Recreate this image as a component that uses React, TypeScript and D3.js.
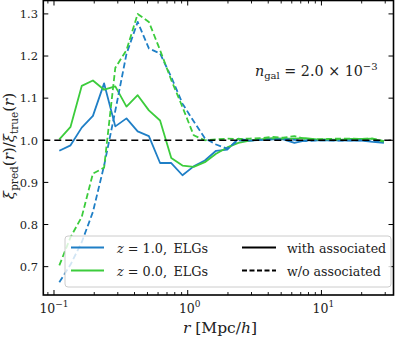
import * as d3 from 'd3';

// bin centres in Mpc/h
const rBins = [0.1096, 0.1330, 0.1612, 0.1955, 0.2370, 0.2874, 0.3484, 0.4225, 0.5124, 0.6213,
  0.7534, 0.9135, 1.108, 1.343, 1.629, 1.975, 2.394, 2.904, 3.521, 4.269,
  5.176, 6.277, 7.610, 9.228, 11.19, 13.57, 16.45, 19.95, 24.19, 29.33];

const z1With = [0.975, 0.988, 1.030, 1.058, 1.135, 1.033, 1.052, 1.021, 1.010, 0.946,
  0.946, 0.917, 0.938, 0.952, 0.975, 0.978, 1.004, 0.999, 1.001, 1.002,
  1.002, 0.994, 1.000, 1.000, 1.000, 1.000, 0.999, 0.999, 0.996, 0.994];
const z0With = [1.002, 1.032, 1.129, 1.142, 1.120, 1.128, 1.080, 1.107, 1.071, 1.047,
  0.958, 0.940, 0.937, 0.948, 0.968, 0.983, 0.994, 0.999, 1.002, 1.005,
  1.004, 1.004, 1.005, 1.002, 1.002, 1.001, 1.003, 1.003, 1.004, 0.996];
const z1Without = [0.663, 0.705, 0.758, 0.830, 0.940, 1.070, 1.205, 1.281, 1.218, 1.206,
  1.150, 1.087, 1.045, 1.005, 0.990, 0.980, 1.000, 0.999, 1.001, 1.002,
  1.003, 1.001, 0.998, 1.000, 1.000, 0.999, 1.000, 1.000, 0.998, 0.997];
const z0Without = [0.703, 0.770, 0.818, 0.921, 0.935, 1.172, 1.214, 1.300, 1.281, 1.214,
  1.143, 1.079, 1.012, 1.000, 1.002, 1.004, 1.003, 1.004, 1.005, 1.008,
  1.006, 1.010, 1.003, 1.002, 1.003, 1.004, 1.004, 1.003, 1.004, 0.998];

const yTicks = [0.7, 0.8, 0.9, 1.0, 1.1, 1.2, 1.3];
const xMajor = [0.1, 1, 10];
const xExp = ['\u22121', '0', '1'];
const xMinor = [0.09, 0.2, 0.3, 0.4, 0.5, 0.6, 0.7, 0.8, 0.9, 2, 3, 4, 5, 6, 7, 8, 9, 20, 30];

const BLUE = '#1f7fc6';
const GREEN = '#3ccc3c';
const FONT = "'DejaVu Serif', serif";

export default function App() {
  const left = 43.3, right = 393.5, top = 0.5, bottom = 295;
  const x = d3.scaleLog().domain([0.08318, 34.59]).range([left, right]);
  const y = d3.scaleLinear().domain([0.6327, 1.3318]).range([bottom, top]);

  const line = (vals: number[]) =>
    d3.line<number>().x((d, i) => x(rBins[i])).y(d => y(d))(vals) || '';

  const series = [
    { vals: z1With, color: BLUE, dash: undefined },
    { vals: z0With, color: GREEN, dash: undefined },
    { vals: z1Without, color: BLUE, dash: '6,3' },
    { vals: z0Without, color: GREEN, dash: '6,3' },
  ];

  return (
    <svg width={399} height={338} style={{ position: 'absolute', left: 0, top: 0 }}>
      <rect width={399} height={338} fill="white" />
      <defs>
        <clipPath id="plot">
          <rect x={left} y={top} width={right - left} height={bottom - top} />
        </clipPath>
      </defs>
      <g clipPath="url(#plot)">
        {series.map((s, i) => (
          <path key={i} d={line(s.vals)} fill="none" stroke={s.color} strokeWidth={1.8}
            strokeDasharray={s.dash} strokeLinejoin="round" />
        ))}
        <line x1={left} x2={right} y1={y(1)} y2={y(1)} stroke="black" strokeWidth={1.6} strokeDasharray="7,4" />
      </g>

      <g style={{ fontFamily: FONT }} fill="#222">
        {yTicks.map(t => (
          <g key={t}>
            <line x1={left} x2={left + 5} y1={y(t)} y2={y(t)} stroke="black" strokeWidth={1} />
            <line x1={right - 5} x2={right} y1={y(t)} y2={y(t)} stroke="black" strokeWidth={1} />
            <text x={38} y={y(t) + 4.3} fontSize={11.5} textAnchor="end">{t.toFixed(1)}</text>
          </g>
        ))}
        {xMajor.map((t, i) => (
          <g key={t}>
            <line x1={x(t)} x2={x(t)} y1={bottom} y2={bottom - 5} stroke="black" strokeWidth={1} />
            <line x1={x(t)} x2={x(t)} y1={top} y2={top + 5} stroke="black" strokeWidth={1} />
            <text x={x(t) + (i === 0 ? 0 : 2)} y={313} fontSize={12.5} textAnchor="middle">
              10<tspan fontSize={9} dy={-6}>{xExp[i]}</tspan>
            </text>
          </g>
        ))}
        {xMinor.map(t => (
          <g key={t}>
            <line x1={x(t)} x2={x(t)} y1={bottom} y2={bottom - 3} stroke="black" strokeWidth={0.9} />
            <line x1={x(t)} x2={x(t)} y1={top} y2={top + 3} stroke="black" strokeWidth={0.9} />
          </g>
        ))}

        <rect x={left} y={top} width={right - left} height={bottom - top} fill="none" stroke="black" strokeWidth={1.6} />

        <text x={255} y={76} fontSize={14.3}>
          <tspan fontStyle="italic">n</tspan>
          <tspan fontSize={10} dy={3}>gal</tspan>
          <tspan dy={-3}>{' = 2.0 \u00d7 10'}</tspan>
          <tspan fontSize={10} dy={-6}>{'\u22123'}</tspan>
        </text>

        <text x={220} y={333} fontSize={15.5} textAnchor="middle">
          <tspan fontStyle="italic">r</tspan>
          <tspan>{' [Mpc/'}</tspan>
          <tspan fontStyle="italic">h</tspan>
          <tspan>]</tspan>
        </text>
        <text transform="translate(14,146) rotate(-90)" fontSize={15} textAnchor="middle">
          <tspan fontStyle="italic">ξ</tspan>
          <tspan fontSize={10.5} dy={3.5}>pred</tspan>
          <tspan dy={-3.5}>(</tspan>
          <tspan fontStyle="italic">r</tspan>
          <tspan>)/</tspan>
          <tspan fontStyle="italic">ξ</tspan>
          <tspan fontSize={10.5} dy={3.5}>true</tspan>
          <tspan dy={-3.5}>(</tspan>
          <tspan fontStyle="italic">r</tspan>
          <tspan>)</tspan>
        </text>

        <rect x={65} y={236} width={326} height={51} rx={3} fill="white" fillOpacity={0.8} stroke="#cccccc" strokeWidth={1} />
        <line x1={71} x2={104} y1={247.5} y2={247.5} stroke={BLUE} strokeWidth={1.8} />
        <line x1={71} x2={104} y1={270.5} y2={270.5} stroke={GREEN} strokeWidth={1.8} />
        <text x={117} y={252.5} fontSize={12.8}>
          <tspan fontStyle="italic">z</tspan>
          <tspan>{' = 1.0,\u2002ELGs'}</tspan>
        </text>
        <text x={117} y={275.5} fontSize={12.8}>
          <tspan fontStyle="italic">z</tspan>
          <tspan>{' = 0.0,\u2002ELGs'}</tspan>
        </text>
        <line x1={242} x2={276} y1={247.5} y2={247.5} stroke="black" strokeWidth={1.8} />
        <line x1={242} x2={276} y1={270.5} y2={270.5} stroke="black" strokeWidth={1.8} strokeDasharray="5,2.5" />
        <text x={287} y={252.5} fontSize={12.6}>with associated</text>
        <text x={287} y={275.5} fontSize={12.6}>w/o associated</text>
      </g>
    </svg>
  );
}
